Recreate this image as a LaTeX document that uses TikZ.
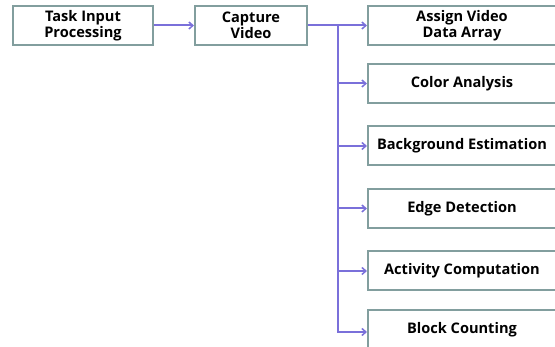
\documentclass[tikz,border=0pt]{standalone}
\usepackage{fontspec}
\setmainfont{Open Sans}
\usetikzlibrary{arrows.meta}
\definecolor{boxc}{RGB}{130,158,158}
\definecolor{arrc}{RGB}{122,112,218}
\tikzset{
  box/.style={draw=boxc, line width=2pt, fill=white, minimum height=39pt, inner sep=0pt, align=center, font=\fontsize{14.6}{16}\selectfont\bfseries},
  conn/.style={draw=arrc, line width=2pt},
  arr/.style={conn, -{Straight Barb[length=4pt,width=7pt,line width=1.5pt]}}
}
\begin{document}
\begin{tikzpicture}[x=1pt,y=-1pt]
\useasboundingbox (0,0) rectangle (555,347);
\node[box, minimum width=140pt] (tip) at (83,25.5) {Task Input\\Processing};
\node[box, minimum width=112pt] (cap) at (251,25.5) {Capture\\Video};
\node[box, minimum width=188pt] (b1) at (462,26) {Assign Video\\Data Array};
\node[box, minimum width=188pt] (b2) at (462,83.5) {Color Analysis};
\node[box, minimum width=188pt] (b3) at (462,146) {Background Estimation};
\node[box, minimum width=188pt] (b4) at (462,208.5) {Edge Detection};
\node[box, minimum width=188pt] (b5) at (462,271) {Activity Computation};
\node[box, minimum width=188pt] (b6) at (462,329.5) {Block Counting};
\coordinate (tr) at (338,25.5);
\draw[arr] (tip.east) -- (cap.west);
\draw[arr] (cap.east) -- (b1.west |- cap.east);
\draw[conn] (tr) -- (338,327);
\draw[arr] (tr) |- (b2.west);
\draw[arr] (tr) |- (b3.west);
\draw[arr] (tr) |- (b4.west);
\draw[arr] (tr) |- (b5.west);
\draw[arr] (tr) |- ([yshift=-2.5pt]b6.west);
\end{tikzpicture}
\end{document}
